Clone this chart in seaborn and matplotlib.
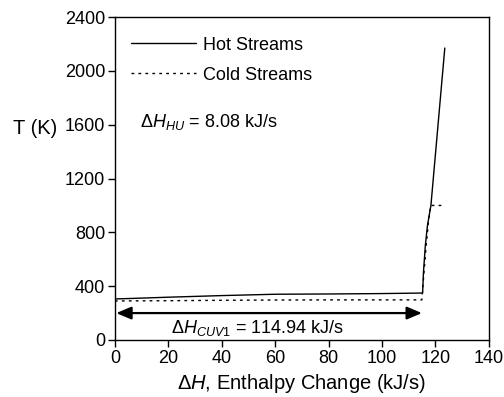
import pandas as pd
import matplotlib.pyplot as plt
import seaborn as sns

# Composite curves
hot_dh = [0, 5, 20, 40, 60, 80, 100, 115.2, 115.5, 116.2, 117.0, 118.3, 123.5]
hot_t = [305, 308, 318, 330, 340, 342, 345, 349, 500, 700, 850, 1000, 2170]
cold_dh = [0, 20, 40, 60, 80, 100, 114.9, 115.3, 116.5, 117.5, 118.2, 123.5]
cold_t = [290, 292, 295, 297, 298, 298, 298, 400, 700, 900, 1000, 1000]

hu_text = r"$\mathit{\Delta H}_{\mathit{HU}}$ = 8.08 kJ/s"
cuv_text = r"$\mathit{\Delta H}_{\mathit{CUV1}}$ = 114.94 kJ/s"
cuv_value = 114.94

hot = pd.DataFrame({"dh": hot_dh, "t": hot_t})
cold = pd.DataFrame({"dh": cold_dh, "t": cold_t})

sns.set_style("ticks")
plt.rcParams["font.family"] = ["Liberation Sans", "DejaVu Sans"]
plt.rcParams["mathtext.fontset"] = "custom"
plt.rcParams["mathtext.rm"] = "Liberation Sans"
plt.rcParams["mathtext.it"] = "Liberation Sans:italic"
plt.rcParams["text.color"] = "black"
plt.rcParams["axes.labelcolor"] = "black"
plt.rcParams["xtick.color"] = "black"
plt.rcParams["ytick.color"] = "black"

fig = plt.figure(figsize=(5.04, 3.97), dpi=100)
ax = fig.add_axes([0.228, 0.1436, 0.742, 0.8134])

sns.lineplot(data=hot, x="dh", y="t", sort=False, color="black", lw=1.0,
             ax=ax, label="Hot Streams")
sns.lineplot(data=cold, x="dh", y="t", sort=False, color="black", lw=1.0,
             linestyle=(0, (2, 3)), ax=ax, label="Cold Streams")

ax.set_xlim(0, 140)
ax.set_ylim(0, 2400)
ax.set_xticks(range(0, 141, 20))
ax.set_yticks(range(0, 2401, 400))
ax.tick_params(labelsize=13, length=5, width=1, direction="out", pad=2)
for s in ax.spines.values():
    s.set_visible(True)
    s.set_color("black")
    s.set_linewidth(1)

ax.set_xlabel(r"$\mathit{\Delta H}$, Enthalpy Change (kJ/s)", fontsize=14.5,
              labelpad=4)
ax.set_ylabel("T (K)", fontsize=14.5, rotation=0, ha="center", va="center")
ax.yaxis.set_label_coords(-0.214, 0.656)

ax.legend(loc="upper left", frameon=False, fontsize=13, handlelength=3.6,
          handletextpad=0.4, bbox_to_anchor=(0.0, 0.99), labelspacing=0.72)

ax.text(9.5, 1620, hu_text, fontsize=13, va="center")

ax.annotate("", xy=(0.5, 200), xytext=(cuv_value, 200),
            arrowprops=dict(arrowstyle="<|-|>,head_length=0.9,head_width=0.38",
                            color="black", lw=1.6, shrinkA=0, shrinkB=0))
ax.text(53.5, 88, cuv_text, fontsize=13, ha="center", va="center")

plt.savefig("out.png", dpi=100)
